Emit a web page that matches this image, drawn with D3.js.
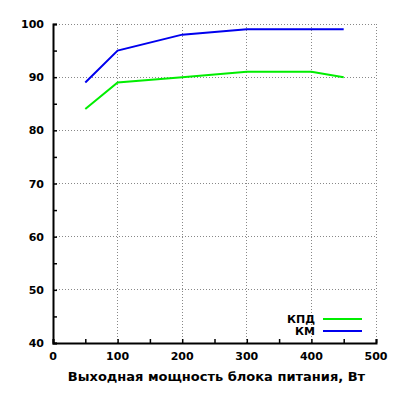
<!DOCTYPE html>
<html>
<head>
<meta charset="utf-8">
<script src="https://cdn.jsdelivr.net/npm/d3@7"></script>
<style>
  body { margin: 0; background: #fff; }
  text { font-family: "DejaVu Sans", Verdana, sans-serif; font-weight: bold; fill: #000; }
</style>
</head>
<body>
<div id="chart"></div>
<script>
// data
const power = [50, 100, 200, 300, 400, 450];
const kpd = [84, 89, 90, 91, 91, 90];
const km = [89, 95, 98, 99, 99, 99];
const seriesNames = ["КПД", "КМ"];
const seriesColors = ["#00ee00", "#0000ee"];
const xTicks = [0, 100, 200, 300, 400, 500];
const yTicks = [40, 50, 60, 70, 80, 90, 100];
const xTitle = "Выходная мощность блока питания, Вт";

const width = 400, height = 400;
const margin = {left: 53, right: 24, top: 24, bottom: 57};

const svg = d3.select("#chart")
    .append("svg")
        .attr("width", width)
        .attr("height", height);

const x = d3.scaleLinear().domain([0, 500]).range([margin.left, width - margin.right]);
const y = d3.scaleLinear().domain([40, 100]).range([height - margin.bottom, margin.top]);

// dotted grid
const grid = svg.append("g").attr("class", "grid");
grid.selectAll("line.gx")
    .data(xTicks.filter(d => d > 0))
    .enter().append("line")
        .attr("x1", d => x(d)).attr("x2", d => x(d))
        .attr("y1", y(40)).attr("y2", y(100))
        .attr("stroke", "#888").attr("stroke-width", 1)
        .attr("stroke-dasharray", "1,2")
        .attr("shape-rendering", "crispEdges");
grid.selectAll("line.gy")
    .data(yTicks.filter(d => d > 40))
    .enter().append("line")
        .attr("x1", x(0)).attr("x2", x(500))
        .attr("y1", d => y(d)).attr("y2", d => y(d))
        .attr("stroke", "#888").attr("stroke-width", 1)
        .attr("stroke-dasharray", "1,2")
        .attr("shape-rendering", "crispEdges");

// axes, ticks pointing inward
const xAxis = svg.append("g")
    .attr("transform", "translate(0," + y(40) + ")")
    .call(d3.axisBottom(x).tickValues(d3.range(0, 501, 50)).tickSize(-4).tickFormat(""));
const yAxis = svg.append("g")
    .attr("transform", "translate(" + x(0) + ",0)")
    .call(d3.axisLeft(y).tickValues(d3.range(40, 101, 5)).tickSize(-4).tickFormat(""));
[xAxis, yAxis].forEach(a => {
    a.select(".domain").attr("stroke", "#000").attr("stroke-width", 2);
    a.selectAll(".tick line").attr("stroke", "#000").attr("stroke-width", 1.5);
});

// tick labels
svg.append("g").selectAll("text")
    .data(xTicks)
    .enter().append("text")
        .attr("x", d => x(d))
        .attr("y", y(40) + 17)
        .attr("text-anchor", "middle")
        .style("font-size", "11px")
        .text(d => d);
svg.append("g").selectAll("text")
    .data(yTicks)
    .enter().append("text")
        .attr("x", x(0) - 9)
        .attr("y", d => y(d) + 4)
        .attr("text-anchor", "end")
        .style("font-size", "11px")
        .text(d => d);

svg.append("text")
    .attr("x", (x(0) + x(500)) / 2 + 2)
    .attr("y", 381)
    .attr("text-anchor", "middle")
    .style("font-size", "13px")
    .text(xTitle);

// lines
const line = d3.line()
    .x(d => x(d[0]))
    .y(d => y(d[1]));

[kpd, km].forEach((vals, i) => {
    svg.append("path")
        .datum(power.map((p, j) => [p, vals[j]]))
        .attr("fill", "none")
        .attr("stroke", seriesColors[i])
        .attr("stroke-width", 2)
        .attr("d", line);
});

// legend
const legend = svg.selectAll(".legend")
    .data(seriesNames)
    .enter().append("g")
        .attr("class", "legend")
        .attr("transform", (d, i) => "translate(0," + (319 + i * 12) + ")");
legend.append("line")
    .attr("x1", 323).attr("x2", 362)
    .attr("y1", 0).attr("y2", 0)
    .attr("stroke", (d, i) => seriesColors[i])
    .attr("stroke-width", 2);
legend.append("text")
    .attr("x", 315)
    .attr("y", 4)
    .attr("text-anchor", "end")
    .style("font-size", "11px")
    .text(d => d);
</script>
</body>
</html>
